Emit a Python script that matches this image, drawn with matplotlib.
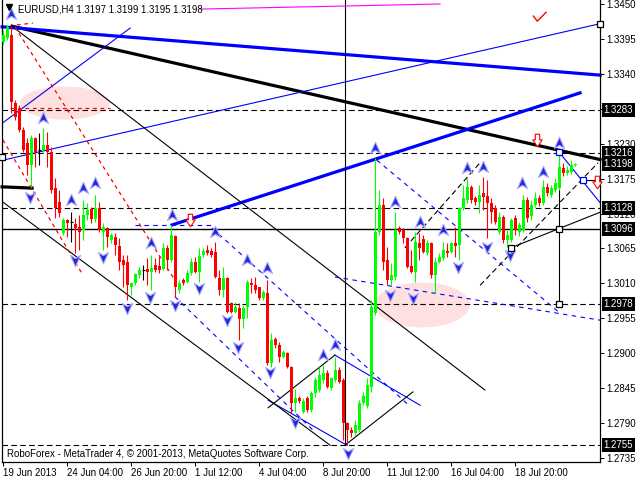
import matplotlib
matplotlib.use('Agg')
import matplotlib.pyplot as plt
from matplotlib.path import Path
from matplotlib.patches import Ellipse

plt.rcParams['font.family'] = ['Liberation Sans', 'DejaVu Sans']

# EURUSD H4 candles (bar 0 = 19 Jun 2013)
opens = [1.3390, 1.3397, 1.3401, 1.3294, 1.3286, 1.3252, 1.3231, 1.3196, 1.3239, 1.3220,
         1.3220, 1.3228, 1.3217, 1.3160, 1.3138, 1.3089, 1.3110, 1.3107, 1.3104, 1.3099,
         1.3094, 1.3118, 1.3127, 1.3111, 1.3129, 1.3091, 1.3097, 1.3078, 1.3083, 1.3069,
         1.3047, 1.3044, 1.3004, 1.3011, 1.3023, 1.3031, 1.3033, 1.3028, 1.3039, 1.3037,
         1.3033, 1.3066, 1.3047, 1.3085, 1.3000, 1.3015, 1.3012, 1.3026, 1.3044, 1.3028,
         1.3055, 1.3063, 1.3061, 1.3059, 1.3019, 1.3000, 1.3019, 1.2979, 1.2965, 1.2971,
         1.2954, 1.2973, 1.3011, 1.3007, 1.3004, 1.2987, 1.2995, 1.2885, 1.2922, 1.2913,
         1.2894, 1.2900, 1.2878, 1.2822, 1.2829, 1.2807, 1.2829, 1.2811, 1.2837, 1.2842,
         1.2858, 1.2869, 1.2845, 1.2858, 1.2874, 1.2858, 1.2790, 1.2779, 1.2774, 1.2779,
         1.2822, 1.2817, 1.2847, 1.2963, 1.3091, 1.3133, 1.3047, 1.3015, 1.3020, 1.3097,
         1.3094, 1.3082, 1.3037, 1.3028, 1.3074, 1.3080, 1.3058, 1.3074, 1.3023, 1.3044,
         1.3050, 1.3061, 1.3059, 1.3074, 1.3070, 1.3129, 1.3141, 1.3162, 1.3145, 1.3138,
         1.3152, 1.3148, 1.3137, 1.3129, 1.3091, 1.3115, 1.3078, 1.3078, 1.3113, 1.3091,
         1.3094, 1.3141, 1.3116, 1.3133, 1.3145, 1.3137, 1.3162, 1.3149, 1.3157, 1.3160,
         1.3192, 1.3184, 1.3186, 1.3197]
highs = [1.3409, 1.3417, 1.3415, 1.3299, 1.3291, 1.3256, 1.3239, 1.3244, 1.3241, 1.3247,
         1.3255, 1.3248, 1.3225, 1.3176, 1.3157, 1.3113, 1.3111, 1.3122, 1.3113, 1.3118,
         1.3141, 1.3137, 1.3130, 1.3149, 1.3138, 1.3105, 1.3099, 1.3089, 1.3089, 1.3082,
         1.3055, 1.3055, 1.3012, 1.3026, 1.3036, 1.3039, 1.3050, 1.3055, 1.3050, 1.3053,
         1.3074, 1.3070, 1.3102, 1.3086, 1.3015, 1.3019, 1.3031, 1.3050, 1.3052, 1.3066,
         1.3066, 1.3070, 1.3066, 1.3075, 1.3031, 1.3036, 1.3020, 1.2981, 1.2981, 1.2979,
         1.2976, 1.3015, 1.3019, 1.3020, 1.3004, 1.3000, 1.3015, 1.2932, 1.2926, 1.2918,
         1.2905, 1.2902, 1.2880, 1.2844, 1.2833, 1.2829, 1.2833, 1.2841, 1.2863, 1.2878,
         1.2881, 1.2874, 1.2863, 1.2894, 1.2878, 1.2861, 1.2792, 1.2784, 1.2795, 1.2826,
         1.2839, 1.2861, 1.2984, 1.3208, 1.3157, 1.3145, 1.3067, 1.3042, 1.3122, 1.3100,
         1.3097, 1.3083, 1.3063, 1.3091, 1.3089, 1.3086, 1.3078, 1.3075, 1.3052, 1.3058,
         1.3075, 1.3074, 1.3075, 1.3099, 1.3130, 1.3165, 1.3176, 1.3165, 1.3148, 1.3165,
         1.3178, 1.3173, 1.3145, 1.3133, 1.3122, 1.3118, 1.3094, 1.3113, 1.3118, 1.3107,
         1.3149, 1.3146, 1.3141, 1.3154, 1.3149, 1.3173, 1.3168, 1.3165, 1.3176, 1.3216,
         1.3200, 1.3195, 1.3204, 1.3199]
lows = [1.3385, 1.3393, 1.3278, 1.3267, 1.3248, 1.3217, 1.3181, 1.3162, 1.3193, 1.3196,
        1.3215, 1.3193, 1.3152, 1.3113, 1.3115, 1.3086, 1.3083, 1.3075, 1.3058, 1.3063,
        1.3078, 1.3110, 1.3105, 1.3107, 1.3091, 1.3063, 1.3067, 1.3074, 1.3055, 1.3031,
        1.3004, 1.2984, 1.2992, 1.3007, 1.3019, 1.3015, 1.3007, 1.3000, 1.3028, 1.3026,
        1.3031, 1.3031, 1.3044, 1.2989, 1.2995, 1.3007, 1.3011, 1.3023, 1.3026, 1.3012,
        1.3052, 1.3055, 1.3052, 1.3019, 1.2992, 1.2989, 1.2963, 1.2963, 1.2963, 1.2921,
        1.2940, 1.2956, 1.2995, 1.2995, 1.2984, 1.2984, 1.2881, 1.2878, 1.2908, 1.2886,
        1.2893, 1.2877, 1.2806, 1.2807, 1.2822, 1.2806, 1.2807, 1.2807, 1.2831, 1.2839,
        1.2853, 1.2845, 1.2842, 1.2855, 1.2853, 1.2763, 1.2755, 1.2768, 1.2771, 1.2776,
        1.2818, 1.2814, 1.2839, 1.2960, 1.3086, 1.3031, 1.3007, 1.3007, 1.3015, 1.3088,
        1.3074, 1.3034, 1.3026, 1.3012, 1.3047, 1.3058, 1.3055, 1.3019, 1.2995, 1.3042,
        1.3047, 1.3052, 1.3058, 1.3052, 1.3047, 1.3126, 1.3137, 1.3137, 1.3133, 1.3121,
        1.3126, 1.3082, 1.3105, 1.3104, 1.3088, 1.3074, 1.3067, 1.3075, 1.3086, 1.3085,
        1.3091, 1.3107, 1.3110, 1.3130, 1.3132, 1.3133, 1.3148, 1.3146, 1.3154, 1.3157,
        1.3179, 1.3181, 1.3183, 1.3195]
closes = [1.3401, 1.3414, 1.3296, 1.3272, 1.3252, 1.3220, 1.3196, 1.3239, 1.3217, 1.3220,
          1.3228, 1.3217, 1.3157, 1.3129, 1.3121, 1.3110, 1.3105, 1.3107, 1.3097, 1.3091,
          1.3118, 1.3126, 1.3111, 1.3129, 1.3094, 1.3099, 1.3083, 1.3086, 1.3070, 1.3044,
          1.3039, 1.3007, 1.3011, 1.3025, 1.3031, 1.3031, 1.3028, 1.3034, 1.3031, 1.3031,
          1.3066, 1.3047, 1.3086, 1.3004, 1.3011, 1.3011, 1.3026, 1.3044, 1.3028, 1.3053,
          1.3061, 1.3058, 1.3055, 1.3020, 1.3000, 1.3019, 1.2965, 1.2965, 1.2973, 1.2954,
          1.2971, 1.3012, 1.3007, 1.3000, 1.2987, 1.2996, 1.2885, 1.2921, 1.2913, 1.2894,
          1.2902, 1.2878, 1.2822, 1.2829, 1.2825, 1.2825, 1.2811, 1.2837, 1.2858, 1.2866,
          1.2869, 1.2847, 1.2861, 1.2874, 1.2855, 1.2790, 1.2779, 1.2774, 1.2787, 1.2822,
          1.2833, 1.2850, 1.2973, 1.3091, 1.3133, 1.3044, 1.3015, 1.3023, 1.3094, 1.3091,
          1.3082, 1.3036, 1.3028, 1.3075, 1.3066, 1.3059, 1.3074, 1.3023, 1.3044, 1.3052,
          1.3063, 1.3058, 1.3074, 1.3069, 1.3129, 1.3145, 1.3162, 1.3141, 1.3138, 1.3149,
          1.3146, 1.3137, 1.3122, 1.3107, 1.3115, 1.3078, 1.3086, 1.3110, 1.3094, 1.3102,
          1.3141, 1.3113, 1.3133, 1.3145, 1.3137, 1.3162, 1.3152, 1.3160, 1.3168, 1.3193,
          1.3184, 1.3189, 1.3196, 1.3198]

x_tick_bars = [0, 16, 32, 48, 64, 80, 96, 112, 128]
x_tick_labels = ['19 Jun 2013', '24 Jun 04:00', '26 Jun 20:00', '1 Jul 12:00', '4 Jul 04:00',
                 '8 Jul 20:00', '11 Jul 12:00', '16 Jul 04:00', '18 Jul 20:00']
price_ticks = [1.3450, 1.3395, 1.3340, 1.3285, 1.3230, 1.3175, 1.3120, 1.3065, 1.3010,
               1.2955, 1.2900, 1.2845, 1.2790, 1.2735]
hidden_tick_labels = [1.3285]  # covered by the 1.3283 marker
marked_levels = [1.3283, 1.3216, 1.3198, 1.3128, 1.3096, 1.2978, 1.2755]
dashed_levels = [1.3283, 1.3216, 1.3128, 1.2978, 1.2755]
solid_levels = [1.3096]

# analysis objects: (bar, price) end points
thick_black_lines = [[(2.2, 1.3415), (149.2, 1.3205)], [(-0.3, 1.3162), (7.2, 1.3160)]]
thick_blue_lines = [[(-0.3, 1.3414), (149.2, 1.3338)], [(42.2, 1.3102), (144.2, 1.3310)]]
thin_blue_lines = [[(-0.1, 1.3204), (149.2, 1.3419)], [(-0.1, 1.3263), (31.7, 1.3412)],
                   [(82.9, 1.2897), (104.2, 1.2818)], [(66.2, 1.2826), (85.9, 1.2755)],
                   [(138.9, 1.3217), (149.2, 1.3137)]]
thin_black_lines = [[(2.2, 1.3415), (120.4, 1.2842)], [(-0.1, 1.3138), (81.7, 1.2755)],
                    [(66.2, 1.2814), (82.9, 1.2897)], [(85.4, 1.2755), (102.4, 1.2839)],
                    [(126.9, 1.3066), (149.2, 1.3122)], [(144.9, 1.3173), (149.2, 1.3173)],
                    [(85.4, 1.3456), (85.4, 1.2755)], [(138.9, 1.3217), (138.9, 1.2978)]]
blue_dashed_lines = [[(32.9, 1.3102), (51.9, 1.3102)], [(52.2, 1.3097), (101.4, 1.2818)],
                     [(42.9, 1.2989), (77.9, 1.2776)], [(82.9, 1.3020), (149.2, 1.2952)],
                     [(93.4, 1.3204), (139.2, 1.2963)]]
black_dashed_lines = [[(100.4, 1.3066), (119.2, 1.3200)], [(119.2, 1.3007), (148.7, 1.3200)]]
red_dashed_lines = [[(2.9, 1.3414), (42.9, 1.3015)], [(-0.1, 1.3236), (19.9, 1.3023)],
                    [(1.7, 1.3286), (26.7, 1.3286)], [(3.4, 1.3417), (7.4, 1.3420)]]
magenta_lines = [[(49.2, 1.3442), (109.2, 1.3450)]]
red_check = [(132.5, 1.3431), (133.5, 1.3423), (135.7, 1.3437)]

up_arrow_bars = [1.9, 9.9, 16.9, 19.9, 22.9, 36.9, 42.2, 52.9, 60.9, 65.9, 79.9, 82.9,
                 92.9, 97.9, 104.2, 109.9, 115.9, 119.9, 129.7, 134.9, 138.9]
up_arrow_prices = [1.3434, 1.3270, 1.3141, 1.3160, 1.3168, 1.3074, 1.3118, 1.3091, 1.3047,
                   1.3034, 1.2897, 1.2913, 1.3223, 1.3138, 1.3107, 1.3094, 1.3192, 1.3193,
                   1.3168, 1.3185, 1.3231]
down_arrow_bars = [6.7, 17.9, 24.9, 30.9, 36.7, 42.9, 48.9, 55.9, 58.7, 66.7, 72.9, 86.2,
                   96.7, 102.4, 113.7, 120.9, 126.7]
down_arrow_prices = [1.3146, 1.3047, 1.3052, 1.2971, 1.2989, 1.2976, 1.3003, 1.2952, 1.2910,
                     1.2870, 1.2792, 1.2743, 1.2992, 1.2987, 1.3036, 1.3068, 1.3055]
sell_bars = [46.7, 133.4, 148.4]
sell_prices = [1.3110, 1.3236, 1.3170]
black_sq_bars = [-0.3, 149.2, 138.9, 138.9, 126.9]
black_sq_prices = [1.3209, 1.3419, 1.3096, 1.2978, 1.3066]
blue_sq_bars = [138.9, 144.9]
blue_sq_prices = [1.3217, 1.3173]
# pink zones: centre bar, centre price, width (bars), height (price)
zones = [(15.4, 1.3294, 22.5, 0.0052), (104.7, 1.2976, 23.8, 0.0071)]

fig = plt.figure(figsize=(6.4, 4.8), dpi=100)
ax = fig.add_axes([2 / 640, 18 / 480, 598 / 640, 462 / 480])
ax.set_xlim(-0.325, 149.175)
ax.set_ylim(1.27286, 1.34563)

for cx, cy, w, h in zones:
    ax.add_patch(Ellipse((cx, cy), w, h, facecolor='#ffe0e0', edgecolor='none', zorder=0.5))

for lv in dashed_levels:
    ax.axhline(lv, color='black', lw=0.8, ls=(0, (5, 3)), zorder=1)
for lv in solid_levels:
    ax.axhline(lv, color='black', lw=1.0, zorder=1)


def draw(lines, **kw):
    for seg in lines:
        ax.plot([p[0] for p in seg], [p[1] for p in seg], clip_on=False, **kw)


draw(thick_black_lines, color='black', lw=2.3, zorder=2)
draw(thick_blue_lines, color='#0000ff', lw=2.3, zorder=2)
draw(thin_blue_lines, color='#0000ff', lw=0.8, zorder=2)
draw(thin_black_lines, color='black', lw=0.8, zorder=2)
draw(blue_dashed_lines, color='#0000ff', lw=0.8, ls=(0, (4, 4)), zorder=2)
draw(black_dashed_lines, color='black', lw=0.8, ls=(0, (5, 3)), zorder=2)
draw(red_dashed_lines, color='#ff0000', lw=0.9, ls=(0, (3, 3)), zorder=2)
draw(magenta_lines, color='#ff00ff', lw=0.8, zorder=2)
draw([red_check], color='#ff0000', lw=1.0, zorder=2)

# candles
for i in range(len(opens)):
    o, h, l, c = opens[i], highs[i], lows[i], closes[i]
    if c > o:
        col = '#00ff00'
    elif c < o:
        col = '#ff0000'
    else:
        col = 'black'
    ax.vlines(i, l, h, color=col, lw=0.8, zorder=3)
    if c == o:
        ax.hlines(o, i - 0.4, i + 0.4, color=col, lw=0.8, zorder=3)
    else:
        ax.bar(i, max(abs(c - o), 0.00012), bottom=min(o, c), width=0.72,
               color=col, linewidth=0, zorder=3)

up_path = Path([(0, 1), (0.8, -0.8), (0, -0.3), (-0.8, -0.8), (0, 1)],
               [Path.MOVETO, Path.LINETO, Path.LINETO, Path.LINETO, Path.CLOSEPOLY])
down_path = Path([(0, -1), (0.8, 0.8), (0, 0.3), (-0.8, 0.8), (0, -1)],
                 [Path.MOVETO, Path.LINETO, Path.LINETO, Path.LINETO, Path.CLOSEPOLY])
sell_path = Path([(-0.35, 1), (0.35, 1), (0.35, 0.1), (0.75, 0.1), (0, -1), (-0.75, 0.1),
                  (-0.35, 0.1), (-0.35, 1)],
                 [Path.MOVETO] + [Path.LINETO] * 6 + [Path.CLOSEPOLY])

ax.plot(up_arrow_bars, up_arrow_prices, ls='none', marker=up_path, ms=9,
        mfc='#2626d9', mec='#a8a8ff', mew=0.8, zorder=4, clip_on=False)
ax.plot(down_arrow_bars, down_arrow_prices, ls='none', marker=down_path, ms=9,
        mfc='#2626d9', mec='#a8a8ff', mew=0.8, zorder=4, clip_on=False)
ax.plot(sell_bars, sell_prices, ls='none', marker=sell_path, ms=9,
        mfc='white', mec='#ff0000', mew=0.8, zorder=4, clip_on=False)
ax.plot(black_sq_bars, black_sq_prices, ls='none', marker='s', ms=4.5,
        mfc='white', mec='black', mew=0.9, zorder=5, clip_on=False)
ax.plot(blue_sq_bars, blue_sq_prices, ls='none', marker='s', ms=4.5,
        mfc='white', mec='#0000ff', mew=0.9, zorder=5, clip_on=False)

# axes
ax.yaxis.tick_right()
ax.set_yticks(price_ticks)
ax.set_yticklabels(['' if p in hidden_tick_labels else f'{p:.4f}' for p in price_ticks])
ax.set_xticks(x_tick_bars)
ax.set_xticklabels(x_tick_labels, ha='left')
ax.tick_params(axis='y', length=3, width=0.7, pad=1.5, labelsize=7)
ax.tick_params(axis='x', length=3, width=0.7, pad=1.5, labelsize=7)
ax.spines['top'].set_visible(False)
for s in ['left', 'right', 'bottom']:
    ax.spines[s].set_linewidth(0.9)

for lv in marked_levels:
    ax.text(1.006, lv, f'{lv:.4f}', transform=ax.get_yaxis_transform(), fontsize=7,
            color='white', ha='left', va='center', zorder=10, clip_on=False,
            bbox=dict(boxstyle='square,pad=0.2', fc='black', ec='none'))

fig.text(18 / 640, 1 - 9 / 480, 'EURUSD,H4 1.3197 1.3199 1.3195 1.3198', fontsize=6.9,
         va='center', ha='left')
fig.text(7 / 640, 1 - 454 / 480,
         'RoboForex - MetaTrader 4, \u00a9 2001-2013, MetaQuotes Software Corp.',
         fontsize=7, va='center', ha='left')
ax.plot([0.012], [0.985], transform=ax.transAxes, marker='v', ms=5, color='black',
        clip_on=False, zorder=6)

fig.savefig('out.png', dpi=100)
